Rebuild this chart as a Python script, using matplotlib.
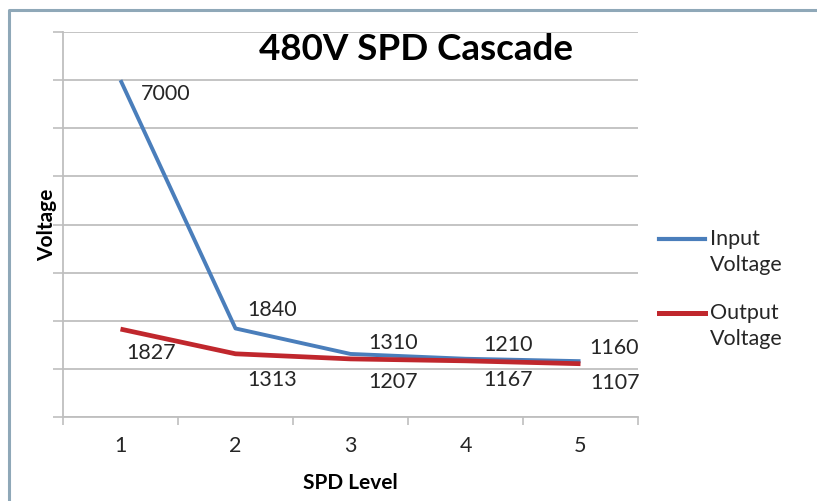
import matplotlib.pyplot as plt
from matplotlib.lines import Line2D
import numpy as np

# data
levels = [1, 2, 3, 4, 5]
input_voltage = [7000, 1840, 1310, 1210, 1160]
output_voltage = [1827, 1313, 1207, 1167, 1107]
series_names = ["Input\nVoltage", "Output\nVoltage"]

# label offsets in pixels (dx, dy) from each point
input_offsets = [(45, -13), (37, 19), (43, 12), (43, 15), (34, 14)]
output_offsets = [(31, -23), (37, -25), (43, -22), (43, -18), (35, -18)]

BLUE = "#4A7EBB"
RED = "#C0272D"
GRID = "#BFBFBF"
TEXT = "#262626"
FONT = "Lato"
LABEL_SIZE = 15.5

fig = plt.figure(figsize=(8.17, 5.02), dpi=100)
W, H = 817, 502
ax = fig.add_axes([63 / W, (H - 418) / H, (638 - 63) / W, (418 - 33) / H])

ax.plot(levels, input_voltage, color=BLUE, linewidth=2.8, solid_capstyle="butt")
ax.plot(levels, output_voltage, color=RED, linewidth=3.4, solid_capstyle="butt")

for vals, offs in ((input_voltage, input_offsets), (output_voltage, output_offsets)):
    for x, y, (dx, dy) in zip(levels, vals, offs):
        ax.annotate(str(y), (x, y), xytext=(dx, dy), textcoords="offset pixels",
                    ha="center", va="center", fontsize=LABEL_SIZE, family=FONT,
                    color=TEXT)

ax.set_xlim(0.5, 5.5)
ax.set_ylim(0, 8000)
ax.set_yticks(np.arange(0, 8001, 1000))
ax.set_yticklabels([])
ax.set_xticks(levels)
ax.set_xticklabels([str(l) for l in levels], fontsize=LABEL_SIZE, family=FONT, color=TEXT)
ax.set_xticks(np.arange(0.5, 5.6, 1), minor=True)
ax.tick_params(axis="x", which="major", length=0, pad=13)
ax.tick_params(axis="x", which="minor", length=6, width=1.2, color=GRID)
ax.tick_params(axis="y", length=7, width=1.2, color=GRID)
ax.grid(axis="y", color=GRID, linewidth=1.3)
ax.set_axisbelow(True)
for side in ("top", "right"):
    ax.spines[side].set_visible(False)
for side in ("left", "bottom"):
    ax.spines[side].set_color(GRID)
    ax.spines[side].set_linewidth(1.3)

fig.text(350 / W, 1 - 483 / H, "SPD Level", ha="center", va="center",
         fontsize=15, family=FONT, fontweight="bold")
fig.text(47 / W, 1 - 225 / H, "Voltage", ha="center", va="center", rotation=90,
         fontsize=15, family=FONT, fontweight="bold")
fig.text(416 / W, 1 - 50 / H, "480V SPD Cascade", ha="center", va="center",
         fontsize=26.5, family=FONT, fontweight="bold")

# legend drawn by hand so the wrapped text sits like the original
for name, color, lw, y in ((series_names[0], BLUE, 3.0, 240),
                           (series_names[1], RED, 3.6, 314)):
    fig.add_artist(Line2D([659 / W, 705 / W], [1 - y / H, 1 - y / H],
                          transform=fig.transFigure, color=color, linewidth=lw))
    fig.text(710 / W, 1 - (y - 11) / H, name, ha="left", va="top",
             fontsize=LABEL_SIZE, family=FONT, color=TEXT, linespacing=1.4)

# outer frame (left and top edges)
frame = Line2D([9 / W, 9 / W, 1.0], [0.0, 1 - 11 / H, 1 - 11 / H],
               transform=fig.transFigure, color="#8FA8B8", linewidth=2.2)
fig.add_artist(frame)

fig.savefig("out.png", dpi=100)
